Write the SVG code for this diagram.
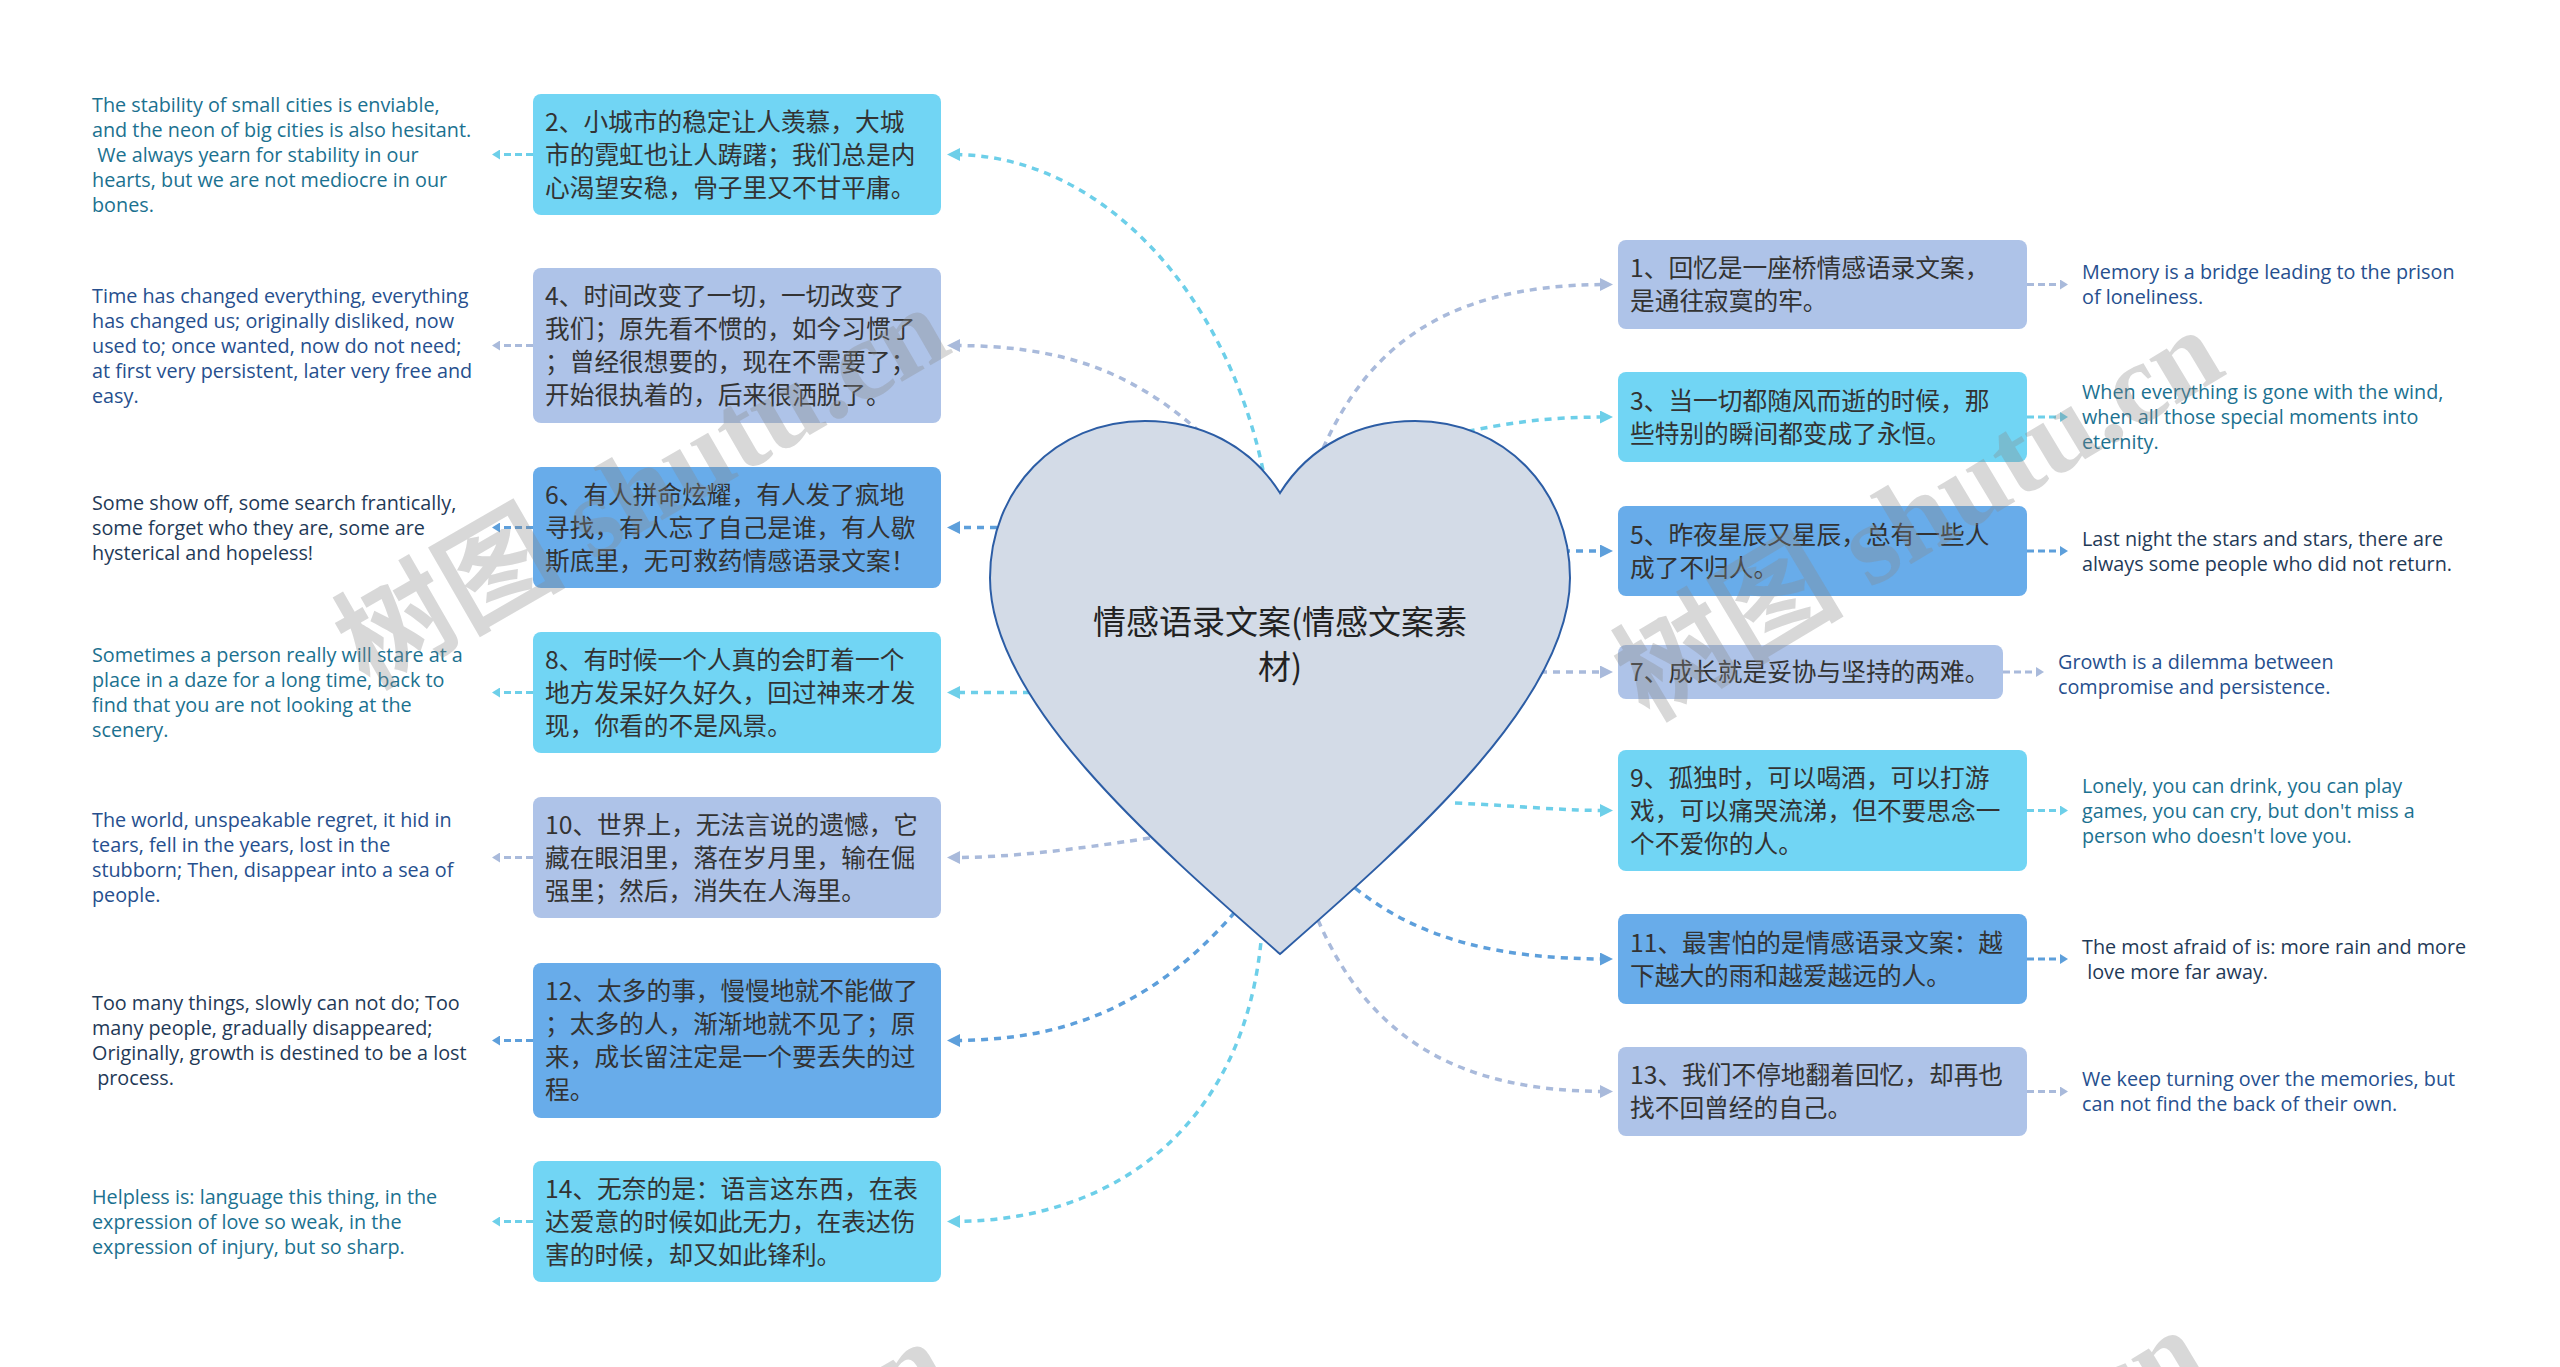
<svg xmlns="http://www.w3.org/2000/svg" width="2560" height="1367" viewBox="0 0 2560 1367">
<defs>
<style>
.bc{fill:#71d5f4}
.bp{fill:#aec3e8}
.bb{fill:#68acea}
.zh{font-family:"Noto Sans CJK SC","Noto Sans",sans-serif;font-size:24.7px;fill:#333333}
.en{font-family:"Open Sans","Noto Sans",sans-serif;font-size:19.8px}
.ec{fill:#1b7190}
.ep{fill:#264f8e}
.eb{fill:#1f3a57}
.ln{fill:none;stroke-width:3.5;stroke-dasharray:7 6}
.sl{fill:none;stroke-width:3;stroke-dasharray:7 4}
.lc{stroke:#6dcfe9}
.lp{stroke:#a9badb}
.lb{stroke:#5d9fdb}
.title{font-family:"Noto Sans CJK SC","Noto Sans",sans-serif;font-size:33px;fill:#222222;text-anchor:middle}
.wm{font-family:"Liberation Serif","Noto Sans CJK SC",serif;font-size:115px;font-weight:bold;fill:#888888;fill-opacity:0.33}
</style>
<marker id="mc" viewBox="0 0 13 13" refX="7" refY="6.5" markerWidth="13" markerHeight="13" markerUnits="userSpaceOnUse" orient="auto"><path d="M0,0L13,6.5L0,13z" fill="#6dcfe9"/></marker>
<marker id="mp" viewBox="0 0 13 13" refX="7" refY="6.5" markerWidth="13" markerHeight="13" markerUnits="userSpaceOnUse" orient="auto"><path d="M0,0L13,6.5L0,13z" fill="#a9badb"/></marker>
<marker id="mb" viewBox="0 0 13 13" refX="7" refY="6.5" markerWidth="13" markerHeight="13" markerUnits="userSpaceOnUse" orient="auto"><path d="M0,0L13,6.5L0,13z" fill="#5d9fdb"/></marker>
<marker id="sc" viewBox="0 0 8 10" refX="1" refY="5" markerWidth="8" markerHeight="10" markerUnits="userSpaceOnUse" orient="auto"><path d="M0,0L8,5L0,10z" fill="#6dcfe9"/></marker>
<marker id="sp" viewBox="0 0 8 10" refX="1" refY="5" markerWidth="8" markerHeight="10" markerUnits="userSpaceOnUse" orient="auto"><path d="M0,0L8,5L0,10z" fill="#a9badb"/></marker>
<marker id="sb" viewBox="0 0 8 10" refX="1" refY="5" markerWidth="8" markerHeight="10" markerUnits="userSpaceOnUse" orient="auto"><path d="M0,0L8,5L0,10z" fill="#5d9fdb"/></marker>
</defs>
<rect x="0" y="0" width="2560" height="1367" fill="#ffffff"/>
<g id="connectors">
<path class="ln lc" d="M1263,470 C1225,290 1100,154.5 953,154.5" marker-end="url(#mc)"/>
<path class="ln lp" d="M1200,432 C1130,370 1060,345.5 953,345.5" marker-end="url(#mp)"/>
<path class="ln lb" d="M1010,527.5 L953,527.5" marker-end="url(#mb)"/>
<path class="ln lc" d="M1030,692.5 L953,692.5" marker-end="url(#mc)"/>
<path class="ln lp" d="M1150,838 C1070,850 1010,857.5 953,857.5" marker-end="url(#mp)"/>
<path class="ln lb" d="M1235,912 C1150,1010 1060,1040.5 953,1040.5" marker-end="url(#mb)"/>
<path class="ln lc" d="M1262,930 C1248,1120 1120,1221.5 953,1221.5" marker-end="url(#mc)"/>
<path class="ln lp" d="M1318,460 C1360,360 1430,284.5 1607,284.5" marker-end="url(#mp)"/>
<path class="ln lc" d="M1455,434 C1510,422 1550,417 1607,417" marker-end="url(#mc)"/>
<path class="ln lb" d="M1550,551 L1607,551" marker-end="url(#mb)"/>
<path class="ln lp" d="M1540,672 L1607,672" marker-end="url(#mp)"/>
<path class="ln lc" d="M1455,803 C1520,806 1560,810.5 1607,810.5" marker-end="url(#mc)"/>
<path class="ln lb" d="M1355,888 C1420,940 1500,959 1607,959" marker-end="url(#mb)"/>
<path class="ln lp" d="M1318,920 C1370,1040 1460,1091.5 1607,1091.5" marker-end="url(#mp)"/>
<path class="sl lc" d="M533,154.5 L499,154.5" marker-end="url(#sc)"/>
<path class="sl lp" d="M533,345.5 L499,345.5" marker-end="url(#sp)"/>
<path class="sl lb" d="M533,527.5 L499,527.5" marker-end="url(#sb)"/>
<path class="sl lc" d="M533,692.5 L499,692.5" marker-end="url(#sc)"/>
<path class="sl lp" d="M533,857.5 L499,857.5" marker-end="url(#sp)"/>
<path class="sl lb" d="M533,1040.5 L499,1040.5" marker-end="url(#sb)"/>
<path class="sl lc" d="M533,1221.5 L499,1221.5" marker-end="url(#sc)"/>
<path class="sl lp" d="M2027,284.5 L2061,284.5" marker-end="url(#sp)"/>
<path class="sl lc" d="M2027,417 L2061,417" marker-end="url(#sc)"/>
<path class="sl lb" d="M2027,551 L2061,551" marker-end="url(#sb)"/>
<path class="sl lp" d="M2003,672 L2037,672" marker-end="url(#sp)"/>
<path class="sl lc" d="M2027,810.5 L2061,810.5" marker-end="url(#sc)"/>
<path class="sl lb" d="M2027,959 L2061,959" marker-end="url(#sb)"/>
<path class="sl lp" d="M2027,1091.5 L2061,1091.5" marker-end="url(#sp)"/>
</g>
<g id="n0">
<path d="M1280,493 C1250,445 1200,421 1145,421 C1055,421 990,490 990,578 C990,700 1150,840 1280,954 C1410,840 1570,700 1570,578 C1570,490 1505,421 1415,421 C1360,421 1310,445 1280,493 Z" fill="#d3dbe7" stroke="#2c5da5" stroke-width="2"/>
<text class="title"><tspan x="1280" y="634">情感语录文案(情感文案素</tspan><tspan x="1280" y="679">材)</tspan></text>
</g>
<g id="n2"><rect class="bc" x="533" y="94" width="408" height="121" rx="8"/><text class="zh"><tspan x="545" y="131">2、小城市的稳定让人羡慕，大城</tspan><tspan x="545" y="164">市的霓虹也让人踌躇；我们总是内</tspan><tspan x="545" y="197">心渴望安稳，骨子里又不甘平庸。</tspan></text></g>
<g id="n4"><rect class="bp" x="533" y="268" width="408" height="155" rx="8"/><text class="zh"><tspan x="545" y="305">4、时间改变了一切，一切改变了</tspan><tspan x="545" y="338">我们；原先看不惯的，如今习惯了</tspan><tspan x="545" y="371">；曾经很想要的，现在不需要了；</tspan><tspan x="545" y="404">开始很执着的，后来很洒脱了。</tspan></text></g>
<g id="n6"><rect class="bb" x="533" y="467" width="408" height="121" rx="8"/><text class="zh"><tspan x="545" y="503.5">6、有人拼命炫耀，有人发了疯地</tspan><tspan x="545" y="536.5">寻找，有人忘了自己是谁，有人歇</tspan><tspan x="545" y="569.5">斯底里，无可救药情感语录文案！</tspan></text></g>
<g id="n8"><rect class="bc" x="533" y="632" width="408" height="121" rx="8"/><text class="zh"><tspan x="545" y="668.5">8、有时候一个人真的会盯着一个</tspan><tspan x="545" y="701.5">地方发呆好久好久，回过神来才发</tspan><tspan x="545" y="734.5">现，你看的不是风景。</tspan></text></g>
<g id="n10"><rect class="bp" x="533" y="797" width="408" height="121" rx="8"/><text class="zh"><tspan x="545" y="833.5">10、世界上，无法言说的遗憾，它</tspan><tspan x="545" y="866.5">藏在眼泪里，落在岁月里，输在倔</tspan><tspan x="545" y="899.5">强里；然后，消失在人海里。</tspan></text></g>
<g id="n12"><rect class="bb" x="533" y="963" width="408" height="155" rx="8"/><text class="zh"><tspan x="545" y="1000">12、太多的事，慢慢地就不能做了</tspan><tspan x="545" y="1033">；太多的人，渐渐地就不见了；原</tspan><tspan x="545" y="1066">来，成长留注定是一个要丢失的过</tspan><tspan x="545" y="1099">程。</tspan></text></g>
<g id="n14"><rect class="bc" x="533" y="1161" width="408" height="121" rx="8"/><text class="zh"><tspan x="545" y="1197.5">14、无奈的是：语言这东西，在表</tspan><tspan x="545" y="1230.5">达爱意的时候如此无力，在表达伤</tspan><tspan x="545" y="1263.5">害的时候，却又如此锋利。</tspan></text></g>
<g id="n1"><rect class="bp" x="1618" y="240" width="409" height="89" rx="8"/><text class="zh"><tspan x="1630" y="277">1、回忆是一座桥情感语录文案，</tspan><tspan x="1630" y="310">是通往寂寞的牢。</tspan></text></g>
<g id="n3"><rect class="bc" x="1618" y="372" width="409" height="90" rx="8"/><text class="zh"><tspan x="1630" y="409.5">3、当一切都随风而逝的时候，那</tspan><tspan x="1630" y="442.5">些特别的瞬间都变成了永恒。</tspan></text></g>
<g id="n5"><rect class="bb" x="1618" y="506" width="409" height="90" rx="8"/><text class="zh"><tspan x="1630" y="543.5">5、昨夜星辰又星辰，总有一些人</tspan><tspan x="1630" y="576.5">成了不归人。</tspan></text></g>
<g id="n7"><rect class="bp" x="1618" y="645" width="385" height="54" rx="8"/><text class="zh"><tspan x="1630" y="681">7、成长就是妥协与坚持的两难。</tspan></text></g>
<g id="n9"><rect class="bc" x="1618" y="750" width="409" height="121" rx="8"/><text class="zh"><tspan x="1630" y="786.5">9、孤独时，可以喝酒，可以打游</tspan><tspan x="1630" y="819.5">戏，可以痛哭流涕，但不要思念一</tspan><tspan x="1630" y="852.5">个不爱你的人。</tspan></text></g>
<g id="n11"><rect class="bb" x="1618" y="914" width="409" height="90" rx="8"/><text class="zh"><tspan x="1630" y="951.5">11、最害怕的是情感语录文案：越</tspan><tspan x="1630" y="984.5">下越大的雨和越爱越远的人。</tspan></text></g>
<g id="n13"><rect class="bp" x="1618" y="1047" width="409" height="89" rx="8"/><text class="zh"><tspan x="1630" y="1084">13、我们不停地翻着回忆，却再也</tspan><tspan x="1630" y="1117">找不回曾经的自己。</tspan></text></g>
<g id="t2"><text class="en ec" xml:space="preserve"><tspan x="92" y="111.5">The stability of small cities is enviable,</tspan><tspan x="92" y="136.5">and the neon of big cities is also hesitant.</tspan><tspan x="92" y="161.5"> We always yearn for stability in our</tspan><tspan x="92" y="186.5">hearts, but we are not mediocre in our</tspan><tspan x="92" y="211.5">bones.</tspan></text></g>
<g id="t4"><text class="en ep"><tspan x="92" y="302.5">Time has changed everything, everything</tspan><tspan x="92" y="327.5">has changed us; originally disliked, now</tspan><tspan x="92" y="352.5">used to; once wanted, now do not need;</tspan><tspan x="92" y="377.5">at first very persistent, later very free and</tspan><tspan x="92" y="402.5">easy.</tspan></text></g>
<g id="t6"><text class="en eb"><tspan x="92" y="509.5">Some show off, some search frantically,</tspan><tspan x="92" y="534.5">some forget who they are, some are</tspan><tspan x="92" y="559.5">hysterical and hopeless!</tspan></text></g>
<g id="t8"><text class="en ec"><tspan x="92" y="662">Sometimes a person really will stare at a</tspan><tspan x="92" y="687">place in a daze for a long time, back to</tspan><tspan x="92" y="712">find that you are not looking at the</tspan><tspan x="92" y="737">scenery.</tspan></text></g>
<g id="t10"><text class="en ep"><tspan x="92" y="827">The world, unspeakable regret, it hid in</tspan><tspan x="92" y="852">tears, fell in the years, lost in the</tspan><tspan x="92" y="877">stubborn; Then, disappear into a sea of</tspan><tspan x="92" y="902">people.</tspan></text></g>
<g id="t12"><text class="en eb" xml:space="preserve"><tspan x="92" y="1010">Too many things, slowly can not do; Too</tspan><tspan x="92" y="1035">many people, gradually disappeared;</tspan><tspan x="92" y="1060">Originally, growth is destined to be a lost</tspan><tspan x="92" y="1085"> process.</tspan></text></g>
<g id="t14"><text class="en ec"><tspan x="92" y="1203.5">Helpless is: language this thing, in the</tspan><tspan x="92" y="1228.5">expression of love so weak, in the</tspan><tspan x="92" y="1253.5">expression of injury, but so sharp.</tspan></text></g>
<g id="t1"><text class="en ep"><tspan x="2082" y="279">Memory is a bridge leading to the prison</tspan><tspan x="2082" y="304">of loneliness.</tspan></text></g>
<g id="t3"><text class="en ec"><tspan x="2082" y="399">When everything is gone with the wind,</tspan><tspan x="2082" y="424">when all those special moments into</tspan><tspan x="2082" y="449">eternity.</tspan></text></g>
<g id="t5"><text class="en eb"><tspan x="2082" y="545.5">Last night the stars and stars, there are</tspan><tspan x="2082" y="570.5">always some people who did not return.</tspan></text></g>
<g id="t7"><text class="en ep"><tspan x="2058" y="668.5">Growth is a dilemma between</tspan><tspan x="2058" y="693.5">compromise and persistence.</tspan></text></g>
<g id="t9"><text class="en ec"><tspan x="2082" y="792.5">Lonely, you can drink, you can play</tspan><tspan x="2082" y="817.5">games, you can cry, but don't miss a</tspan><tspan x="2082" y="842.5">person who doesn't love you.</tspan></text></g>
<g id="t11"><text class="en eb" xml:space="preserve"><tspan x="2082" y="953.5">The most afraid of is: more rain and more</tspan><tspan x="2082" y="978.5"> love more far away.</tspan></text></g>
<g id="t13"><text class="en ep"><tspan x="2082" y="1086">We keep turning over the memories, but</tspan><tspan x="2082" y="1111">can not find the back of their own.</tspan></text></g>
<g id="watermarks">
<text class="wm" transform="translate(368,690) rotate(-30)">树图 shutu.cn</text>
<text class="wm" transform="translate(1648,722) rotate(-31)">树图 shutu.cn</text>
<text class="wm" transform="translate(368,1724) rotate(-30)">树图 shutu.cn</text>
<text class="wm" transform="translate(1630,1722) rotate(-31)">树图 shutu.cn</text>
</g>
</svg>
